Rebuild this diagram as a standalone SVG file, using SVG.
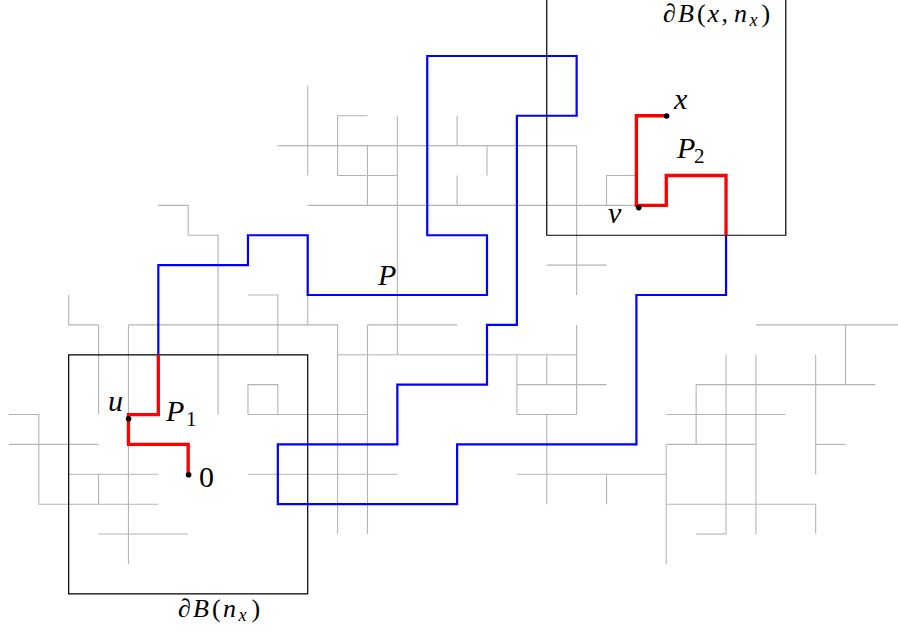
<svg xmlns="http://www.w3.org/2000/svg" width="898" height="632" viewBox="0 0 898 632">
<style>
.g{fill:none;stroke:#b4b4b4;stroke-width:1.1;vector-effect:non-scaling-stroke}
.bx{fill:none;stroke:#000;stroke-width:1.2;vector-effect:non-scaling-stroke}
.bl{fill:none;stroke:#0000ff;stroke-width:2.2;stroke-linejoin:miter;vector-effect:non-scaling-stroke}
.rd{fill:none;stroke:#ff0000;stroke-width:3.3;stroke-linejoin:miter;vector-effect:non-scaling-stroke}
.i{font-style:italic}
</style>
<rect width="898" height="632" fill="#fff"/>
<g transform="translate(188.2,474.3) scale(29.88)">
<g id="lattice">
<path class="g" d="M-1,-9 H0 V-8 H1 V-2"/>
<path class="g" d="M-4,-6 V-5 H-3 V-2"/>
<path class="g" d="M-2,-5 H5 V2"/>
<path class="g" d="M-2,-5 V3"/>
<path class="g" d="M2,-6 H3 V-4"/>
<path class="g" d="M4,-6 V-5"/>
<path class="g" d="M2,-2 V-3 H3 V-2 M2,-2 H6"/>
<path class="g" d="M-6,-2 H-5 V1 H-1"/>
<path class="g" d="M-6,-1 H-3"/>
<path class="g" d="M-4,0 H-1"/>
<path class="g" d="M-3,0 V1"/>
<path class="g" d="M-3,2 H0"/>
<path class="g" d="M2,0 H7"/>
<path class="g" d="M4,-13 V-10"/>
<path class="g" d="M3,-11 H13"/>
<path class="g" d="M6,-12 H5 V-10 H7"/>
<path class="g" d="M6,-11 V-9"/>
<path class="g" d="M7,-12 V-4"/>
<path class="g" d="M9,-12 V-11 M9,-10 V-9"/>
<path class="g" d="M10,-11 V-10"/>
<path class="g" d="M4,-9 H15"/>
<path class="g" d="M13,-11 V-6"/>
<path class="g" d="M12,-7 H14"/>
<path class="g" d="M15,-10 H14 V-9"/>
<path class="g" d="M6,-5 H9 M6,-5 V2"/>
<path class="g" d="M5,-4 H13"/>
<path class="g" d="M11,-4 V-2"/>
<path class="g" d="M12,-4 V-3 M12,-2 V1"/>
<path class="g" d="M11,-3 H14"/>
<path class="g" d="M13,-5 V-2"/>
<path class="g" d="M11,-2 H13"/>
<path class="g" d="M11,0 H16"/>
<path class="g" d="M14,0 V1"/>
<path class="g" d="M16,-1 V3"/>
<path class="g" d="M16,-1 H19"/>
<path class="g" d="M19,-5 H23.8"/>
<path class="g" d="M22,-5 V-3"/>
<path class="g" d="M17,-3 H23"/>
<path class="g" d="M17,-3 V-1"/>
<path class="g" d="M18,-4 V2"/>
<path class="g" d="M19,-4 V2"/>
<path class="g" d="M16,-2 H20"/>
<path class="g" d="M21,-4 V0"/>
<path class="g" d="M21,-1 H22"/>
<path class="g" d="M16,1 H21"/>
<path class="g" d="M21,1 V2"/>
<path class="g" d="M17,2 H18"/>
</g>
<g id="box-origin"><rect class="bx" x="-4" y="-4" width="8" height="8"/></g>
<g id="box-x"><rect class="bx" x="12" y="-16" width="8" height="8"/></g>
<g id="connectors">
<path id="path-P" class="bl" d="M-1,-4 V-7 H2 V-8 H4 V-6 H10 V-8 H8 V-14 H13 V-12 H11 V-5 H10 V-3 H7 V-1 H3 V1 H9 V-1 H15 V-6 H18 V-8"/>
<path id="path-P1" class="rd" d="M0,0 V-1 H-2 V-2 H-1 V-4"/>
<path id="path-P2" class="rd" d="M18,-8 V-10 H16 V-9 H15 V-12 H16"/>
</g>
</g>
<g id="points">
<circle cx="188.6" cy="474.8" r="2.8"/>
<circle cx="128.6" cy="418.8" r="2.8"/>
<circle cx="638.8" cy="207.6" r="2.8"/>
<circle cx="666.6" cy="116" r="2.8"/>
</g>
<g id="labels" font-family="Liberation Serif, DejaVu Serif, serif" fill="#000">
<text x="199" y="487" font-size="30">0</text>
<text x="108" y="411" font-size="30" class="i">u</text>
<text x="166" y="421" font-size="30"><tspan class="i">P</tspan><tspan x="186" y="425.5" font-size="21">1</tspan></text>
<text x="378" y="285" font-size="30" class="i">P</text>
<text x="674" y="109" font-size="30" class="i">x</text>
<text x="608" y="222.5" font-size="30" class="i">v</text>
<text x="677" y="158" font-size="30"><tspan class="i">P</tspan><tspan x="694" y="162.5" font-size="21">2</tspan></text>
<text y="617" font-size="26"><tspan x="178" class="i">∂</tspan><tspan x="193" class="i">B</tspan><tspan x="212">(</tspan><tspan x="223" class="i">n</tspan><tspan x="238.5" y="621" font-size="18" class="i">x</tspan><tspan x="251.5" y="617">)</tspan></text>
<text y="22" font-size="26"><tspan x="663" class="i">∂</tspan><tspan x="678" class="i">B</tspan><tspan x="697">(</tspan><tspan x="707.5" class="i">x</tspan><tspan x="721.5">,</tspan><tspan x="734" class="i">n</tspan><tspan x="749.5" y="26" font-size="18" class="i">x</tspan><tspan x="761.5" y="22">)</tspan></text>
</g>
</svg>
